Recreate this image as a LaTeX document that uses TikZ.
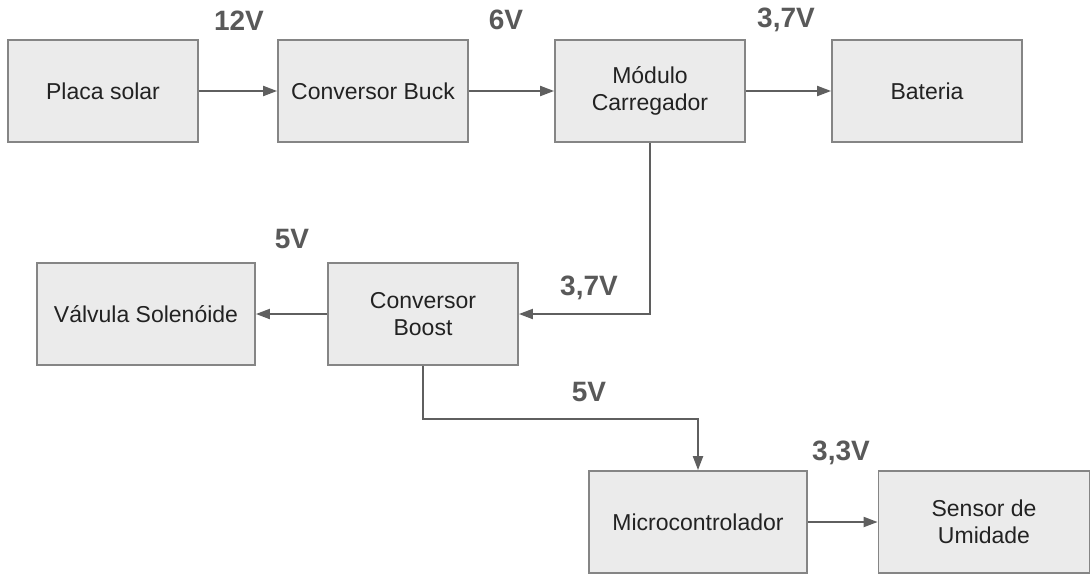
\documentclass[tikz,border=0pt]{standalone}
\usepackage{fontspec}
\setmainfont{Liberation Sans}
\usetikzlibrary{arrows.meta,positioning}
\definecolor{ink}{HTML}{222222}
\definecolor{edge}{HTML}{858585}
\definecolor{boxfill}{HTML}{EBEBEB}
\definecolor{wire}{HTML}{5F5F5F}
\definecolor{volt}{HTML}{595959}
\tikzset{
  blk/.style={draw=edge,fill=boxfill,line width=1.8pt,minimum height=102pt,
    minimum width=190pt,align=center,text=ink,inner sep=2pt,
    font=\fontsize{23}{27}\selectfont},
  wideblk/.style={blk,minimum width=218pt},
  arr/.style={wire,line width=2pt,-{Triangle[length=14pt,width=10pt]}},
  lbl/.style={text=volt,font=\fontsize{28}{32}\selectfont\bfseries,inner sep=0pt},
}
\begin{document}
\begin{tikzpicture}[x=1pt,y=-1pt]
  \useasboundingbox (0,0) rectangle (1091,574);
  % ---------- top row ----------
  \node[blk] (placa) at (103,91) {Placa solar};
  \node[blk] (buck) at (373,91) {Conversor Buck};
  \node[blk] (carreg) at (650,91) {Módulo\\Carregador};
  \node[blk] (bateria) at (927,91) {Bateria};
  % ---------- middle row ----------
  \node[wideblk] (valvula) at (146,314) {Válvula Solenóide};
  \node[blk] (boost) at (423,314) {Conversor\\Boost};
  % ---------- bottom row ----------
  \node[wideblk] (micro) at (698,522) {Microcontrolador};
  \node[blk,minimum width=211pt] (sensor) at (984,522) {Sensor de\\Umidade};
  % ---------- connectors ----------
  \draw[arr] (placa) -- (buck);
  \draw[arr] (buck) -- (carreg);
  \draw[arr] (carreg) -- (bateria);
  \draw[arr] (carreg.south) |- (boost.east);
  \draw[arr] (boost) -- (valvula);
  \draw[arr] (boost.south) -- ++(0,53) -| (micro.north);
  \draw[arr] (micro) -- (sensor);
  % ---------- voltages ----------
  \node[lbl] (v12) at (239,21) {12V};
  \node[lbl] (v6) at (506,20) {6V};
  \node[lbl] (v37top) at (786,20) {3,7V};
  \node[lbl] (v5valv) at (292,239) {5V};
  \node[lbl] (v37mid) at (589,288) {3,7V};
  \node[lbl] (v5micro) at (589,392) {5V};
  \node[lbl] (v33) at (841,453) {3,3V};
\end{tikzpicture}
\end{document}
